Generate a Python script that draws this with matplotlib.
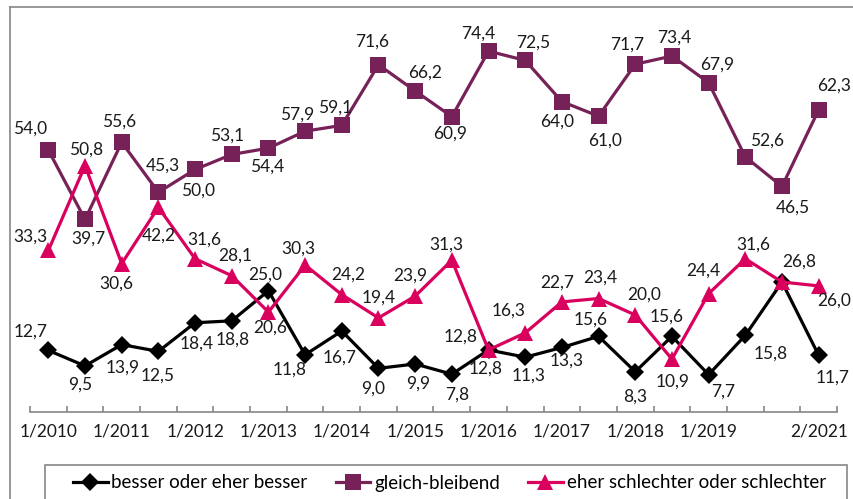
import matplotlib
matplotlib.use("Agg")
import matplotlib.pyplot as plt
from matplotlib.lines import Line2D
from matplotlib.patches import Rectangle
import numpy as np

plt.rcParams['font.family'] = ['Lato', 'DejaVu Sans']

# data
tick_labels = ["1/2010", "1/2011", "1/2012", "1/2013", "1/2014", "1/2015",
               "1/2016", "1/2017", "1/2018", "1/2019", "2/2021"]
tick_idx = [0, 2, 4, 6, 8, 10, 12, 14, 16, 18, 21]

besser = [12.7, 9.5, 13.9, 12.5, 18.4, 18.8, 25.0, 11.8, 16.7, 9.0, 9.9,
          7.8, 12.8, 11.3, 13.3, 15.6, 8.3, 15.6, 7.7, 15.8, 26.8, 11.7]
gleich = [54.0, 39.7, 55.6, 45.3, 50.0, 53.1, 54.4, 57.9, 59.1, 71.6, 66.2,
          60.9, 74.4, 72.5, 64.0, 61.0, 71.7, 73.4, 67.9, 52.6, 46.5, 62.3]
schlechter = [33.3, 50.8, 30.6, 42.2, 31.6, 28.1, 20.6, 30.3, 24.2, 19.4, 23.9,
              31.3, 12.8, 16.3, 22.7, 23.4, 20.0, 10.9, 24.4, 31.6, 26.8, 26.0]

# label offsets in pixels (dx, dy up); None = no label
off_besser = [(-18, 19), (-5, -19), (1, -23), (-1, -24), (2, -21), (1, -19),
              (-3, 16), (-15, -15), (-2, -27), (-5, -20), (3, -20), (5, -20),
              (-3, -19), (3, -18), (5, -13), (-8, 17), (0, -25), (-5, 20),
              (15, -17), (25, -18), None, (14, -22)]
off_gleich = [(-18, 21), (3, -19), (-3, 21), (5, 27), (3, -21), (-5, 19),
              (-1, -18), (-8, 17), (-7, 18), (-6, 23), (10, 18), (-2, -17),
              (-10, 18), (8, 18), (-5, -20), (6, -24), (-8, 20), (2, 18),
              (9, 18), (22, 16), (11, -21), (15, 24)]
off_schl = [(-18, 14), (1, 16), (-5, -20), (0, -28), (9, 19), (3, 20),
            (2, -16), (-7, 16), (6, 20), (0, 20), (-5, 20), (-5, 16),
            (-28, 13), (-17, 22), (-5, 19), (2, 21), (9, 20), (1, -22),
            (-5, 23), (8, 14), (17, 20), (15, -15)]

c_black = "#000000"
c_purple = "#762157"
c_pink = "#D9005E"
fs = 12.5

fig = plt.figure(figsize=(8.54, 4.99), dpi=100)
ax = fig.add_axes([30 / 854, (499 - 412) / 499, 807 / 854, 388 / 499])

x = np.arange(len(gleich))
series = [
    (besser, c_black, "D", 9, "besser oder eher besser", off_besser),
    (gleich, c_purple, "s", 11, "gleich-bleibend", off_gleich),
    (schlechter, c_pink, "^", 11, "eher schlechter oder schlechter", off_schl),
]
for vals, col, mk, ms, name, offs in series:
    ax.plot(x, vals, color=col, lw=2.3, marker=mk, markersize=ms,
            markeredgewidth=0, label=name)
    for xi, v, o in zip(x, vals, offs):
        if o is None:
            continue
        ax.annotate(f"{v:.1f}".replace(".", ","), (xi, v), xytext=o,
                    textcoords="offset pixels", ha="center", va="center",
                    fontsize=fs, color="#1a1a1a")

ax.set_xlim(-0.5, len(gleich) - 0.5)
ax.set_ylim(0, 80)
ax.set_yticks([])
for s in ["top", "right", "left"]:
    ax.spines[s].set_visible(False)
ax.spines["bottom"].set_color("#868686")
ax.spines["bottom"].set_linewidth(1.2)

ax.set_xticks(np.arange(-0.5, len(gleich)))
ax.set_xticklabels([])
ax.tick_params(axis="x", which="major", direction="in", length=4,
               color="#868686", width=1.2)
ax.set_xticks(tick_idx, minor=True)
ax.set_xticklabels(tick_labels, minor=True)
ax.tick_params(axis="x", which="minor", length=0, pad=8, labelsize=fs,
               labelcolor="#1a1a1a")

# chart frame (top and left edges visible)
fig.add_artist(Line2D([10 / 854, 10 / 854], [0, 1 - 7 / 499],
                      transform=fig.transFigure, color="#868686", lw=1.2))
fig.add_artist(Line2D([10 / 854, 1], [1 - 7 / 499, 1 - 7 / 499],
                      transform=fig.transFigure, color="#868686", lw=1.2))

# legend box
fig.add_artist(Rectangle((45 / 854, -12 / 499), 802 / 854, 46 / 499,
                         transform=fig.transFigure, fill=False,
                         edgecolor="#868686", lw=1.2))
fig.legend(loc="center left", bbox_to_anchor=(73 / 854, 1 - 483 / 499),
           ncol=3, frameon=False, fontsize=13.5, handlelength=1.85,
           handletextpad=0.2, columnspacing=1.5, borderpad=0,
           borderaxespad=0)

fig.savefig("out.png", dpi=100)
